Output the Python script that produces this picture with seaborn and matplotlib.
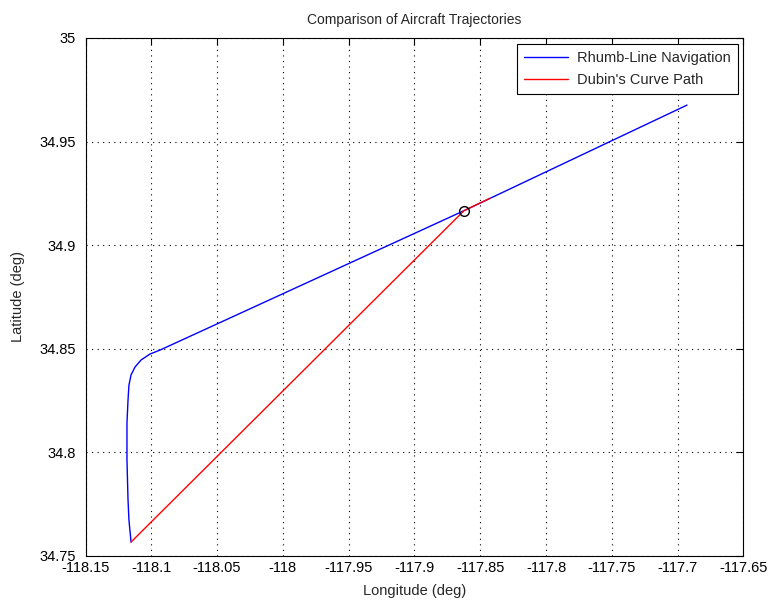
import numpy as np
import pandas as pd
import matplotlib
matplotlib.use("Agg")
import matplotlib.pyplot as plt
import seaborn as sns

# Rhumb-line trajectory
rhumb_lon = [-118.1154, -118.1170, -118.1177, -118.1185, -118.1185, -118.1177,
             -118.1170, -118.1154, -118.1124, -118.1078, -118.1010, -118.0934,
             -117.8624, -117.6929]
rhumb_lat = [34.7566, 34.7673, 34.7770, 34.7962, 34.8141, 34.8252,
             34.8324, 34.8373, 34.8411, 34.8445, 34.8474, 34.8493,
             34.9166, 34.9676]

# Dubin's curve path
dubin_lon = [-118.1154, -117.8624, -117.8426]
dubin_lat = [34.7566, 34.9166, 34.9226]

# joining waypoint
wp_lon = [-117.8624]
wp_lat = [34.9166]

x_ticks = [-118.15, -118.1, -118.05, -118, -117.95, -117.9, -117.85, -117.8, -117.75, -117.7, -117.65]
x_labels = ["-118.15", "-118.1", "-118.05", "-118", "-117.95", "-117.9", "-117.85", "-117.8", "-117.75", "-117.7", "-117.65"]
y_ticks = [34.75, 34.8, 34.85, 34.9, 34.95, 35]
y_labels = ["34.75", "34.8", "34.85", "34.9", "34.95", "35"]

df_rhumb = pd.DataFrame({"lon": rhumb_lon, "lat": rhumb_lat})
df_dubin = pd.DataFrame({"lon": dubin_lon, "lat": dubin_lat})

sns.set_style("white")
plt.rcParams['font.family'] = ['Liberation Sans', 'DejaVu Sans']

fig = plt.figure(figsize=(7.69, 6.03), dpi=100)
ax = fig.add_axes([0.1112, 0.0784, 0.8556, 0.8586])

sns.lineplot(data=df_rhumb, x="lon", y="lat", sort=False, estimator=None,
             color="#0000ff", linewidth=1.0, label="Rhumb-Line Navigation", ax=ax)
sns.lineplot(data=df_dubin, x="lon", y="lat", sort=False, estimator=None,
             color="#ff0000", linewidth=1.0, label="Dubin's Curve Path", ax=ax)
ax.plot(wp_lon, wp_lat, marker="o", markersize=7, markerfacecolor="none",
        markeredgecolor="black", markeredgewidth=1.0, linestyle="none")

ax.set_xlim(-118.15, -117.65)
ax.set_ylim(34.75, 35)
ax.set_xticks(x_ticks)
ax.set_xticklabels(x_labels)
ax.set_yticks(y_ticks)
ax.set_yticklabels(y_labels)
ax.tick_params(direction="in", length=5, width=0.8, labelsize=10.5,
               top=True, right=True, colors="black")
ax.tick_params(axis="y", pad=7)
ax.grid(True, linestyle=(0, (1, 4)), color="black", linewidth=0.8)
for sp in ax.spines.values():
    sp.set_color("black")
    sp.set_linewidth(0.8)

ax.set_title("Comparison of Aircraft Trajectories", fontsize=10, pad=10)
ax.set_xlabel("Longitude (deg)", fontsize=10.5, labelpad=7)
ax.set_ylabel("Latitude (deg)", fontsize=10.5, labelpad=10)

leg = ax.legend(loc="upper right", fontsize=10.5, fancybox=False, framealpha=1,
                edgecolor="black", borderaxespad=0.4, handlelength=3.0,
                borderpad=0.5, labelspacing=0.55, handletextpad=0.6)
leg.get_frame().set_linewidth(0.8)

fig.savefig("out.png", dpi=100)
